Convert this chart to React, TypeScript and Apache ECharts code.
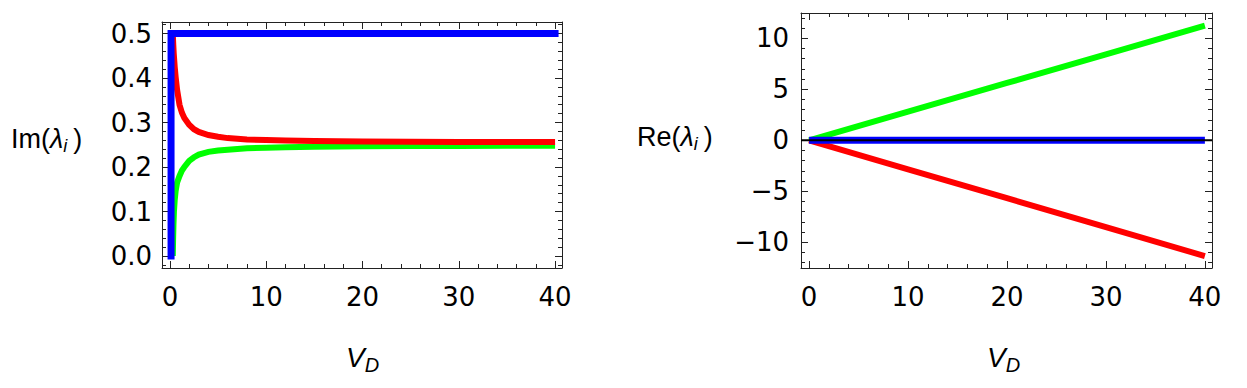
import React, { useEffect, useRef } from "react";
import * as echarts from "echarts";

// ---- axis ranges & ticks ----
const X_MIN = -0.82;
const X_MAX = 40.72;
const X_MAJOR = [0, 10, 20, 30, 40];
const X_MINOR_STEP = 2;

const IM_MIN = -0.027;
const IM_MAX = 0.526;
const IM_MAJOR = [0, 0.1, 0.2, 0.3, 0.4, 0.5];
const IM_MINOR_STEP = 0.02;

const RE_MIN = -12.52;
const RE_MAX = 12.48;
const RE_MAJOR = [-10, -5, 0, 5, 10];
const RE_MINOR_STEP = 1;

// ---- Im(lambda_i) panel data ----
const IM_BLUE_X = [0.12, 0.12, 40];
const IM_BLUE_Y = [0, 0.5, 0.5];

const IM_RED_X = [0.3, 0.35, 0.4, 0.5, 0.6, 0.75, 1, 1.25, 1.5, 2, 2.5, 3, 4, 5, 6, 8, 10, 12, 15, 20, 25, 30, 35, 40];
const IM_RED_Y = [0.5, 0.475, 0.455, 0.425, 0.402, 0.373, 0.34, 0.322, 0.31, 0.295, 0.285, 0.279, 0.272, 0.268, 0.265, 0.262, 0.2605, 0.2595, 0.2585, 0.2575, 0.257, 0.2565, 0.2562, 0.256];

const IM_GREEN_X = [0.3, 0.33, 0.37, 0.42, 0.5, 0.6, 0.75, 1, 1.25, 1.5, 2, 2.5, 3, 4, 5, 6, 8, 10, 12, 15, 20, 25, 30, 35, 40];
const IM_GREEN_Y = [0.0, 0.035, 0.07, 0.1, 0.126, 0.147, 0.165, 0.18, 0.192, 0.2, 0.214, 0.222, 0.228, 0.234, 0.237, 0.239, 0.242, 0.2435, 0.2445, 0.2455, 0.2465, 0.247, 0.2475, 0.2478, 0.248];

// ---- Re(lambda_i) panel data ----
const RE_X = [0, 10, 20, 30, 40];
const RE_GREEN_Y = [0, 2.81, 5.62, 8.43, 11.25];
const RE_RED_Y = [0, -2.84, -5.68, -8.51, -11.35];
const RE_BLUE_Y = [0, 0, 0, 0, 0];

const BLUE = "#0000ff";
const RED = "#ff0000";
const GREEN = "#00ff00";
const FRAME = "#222222";
const FONT = "DejaVu Sans";
const TITLE_FONT = "Liberation Sans";

function minorTicks(min: number, max: number, step: number, majors: number[]) {
  const out: number[] = [];
  const start = Math.ceil(min / step - 1e-9);
  const end = Math.floor(max / step + 1e-9);
  for (let k = start; k <= end; k++) {
    const v = +(k * step).toFixed(6);
    if (!majors.some((m) => Math.abs(m - v) < 1e-9)) out.push(v);
  }
  return out;
}

function pairs(xs: number[], ys: number[]) {
  return xs.map((x, i) => [x, ys[i]]);
}

const fmtIm = (v: number) => v.toFixed(1);
const fmtRe = (v: number) => (v < 0 ? "\u2212" + Math.abs(v) : String(v));

export default function App() {
  const ref = useRef<HTMLDivElement>(null);

  useEffect(() => {
    if (!ref.current) return;
    const chart = echarts.init(ref.current, undefined, { renderer: "svg" });

    const rectL = { left: 162, top: 22, width: 400, height: 246 };
    const rectR = { left: 801, top: 13, width: 411, height: 255 };

    const grids: any[] = [];
    const xAxes: any[] = [];
    const yAxes: any[] = [];

    const labelStyle = { fontFamily: FONT, fontSize: 26, color: "#000" };

    function addPanel(
      rect: any,
      yMin: number,
      yMax: number,
      yMajor: number[],
      yMinorStep: number,
      yFmt: (v: number) => string,
      yMargin: number
    ) {
      const xMinor = minorTicks(X_MIN, X_MAX, X_MINOR_STEP, X_MAJOR);
      const yMinor = minorTicks(yMin, yMax, yMinorStep, yMajor);
      const base = grids.length;
      const configs = [
        { xpos: "bottom", ypos: "left", major: true, labels: true, line: true },
        { xpos: "top", ypos: "right", major: true, labels: false, line: true },
        { xpos: "bottom", ypos: "left", major: false, labels: false, line: false },
        { xpos: "top", ypos: "right", major: false, labels: false, line: false },
      ];
      configs.forEach((c, i) => {
        grids.push({ ...rect, containLabel: false });
        const gi = base + i;
        xAxes.push({
          type: "value",
          gridIndex: gi,
          position: c.xpos,
          min: X_MIN,
          max: X_MAX,
          axisLine: { show: c.line, onZero: false, lineStyle: { color: FRAME, width: 1 } },
          axisTick: {
            show: true,
            inside: true,
            length: c.major ? 7 : 4,
            customValues: c.major ? X_MAJOR : xMinor,
            lineStyle: { color: FRAME, width: 1 },
          },
          axisLabel: c.labels
            ? { show: true, customValues: X_MAJOR, margin: 16, ...labelStyle, formatter: (v: number) => String(v) }
            : { show: false },
          splitLine: { show: false },
          minorTick: { show: false },
        });
        yAxes.push({
          type: "value",
          gridIndex: gi,
          position: c.ypos,
          min: yMin,
          max: yMax,
          axisLine: { show: c.line, onZero: false, lineStyle: { color: FRAME, width: 1 } },
          axisTick: {
            show: true,
            inside: true,
            length: c.major ? 7 : 4,
            customValues: c.major ? yMajor : yMinor,
            lineStyle: { color: FRAME, width: 1 },
          },
          axisLabel: c.labels
            ? { show: true, customValues: yMajor, margin: yMargin, ...labelStyle, formatter: yFmt }
            : { show: false },
          splitLine: { show: false },
          minorTick: { show: false },
        });
      });
      return base;
    }

    const gL = addPanel(rectL, IM_MIN, IM_MAX, IM_MAJOR, IM_MINOR_STEP, fmtIm, 10);
    const gR = addPanel(rectR, RE_MIN, RE_MAX, RE_MAJOR, RE_MINOR_STEP, fmtRe, 12);

    const line = (data: number[][], color: string, width: number, axisIdx: number, z: number, cap = "butt") => ({
      type: "line",
      xAxisIndex: axisIdx,
      yAxisIndex: axisIdx,
      data,
      showSymbol: false,
      symbol: "none",
      smooth: false,
      z,
      lineStyle: { color, width, cap, join: "miter" },
      itemStyle: { color },
      silent: true,
    });

    const series = [
      line(pairs(IM_GREEN_X, IM_GREEN_Y), GREEN, 6, gL, 2),
      line(pairs(IM_RED_X, IM_RED_Y), RED, 6, gL, 3),
      line(pairs(IM_BLUE_X, IM_BLUE_Y), BLUE, 7, gL, 4, "square"),
      line(pairs(RE_X, RE_GREEN_Y), GREEN, 6, gR, 2),
      line(pairs(RE_X, RE_RED_Y), RED, 6, gR, 3),
      line(pairs(RE_X, RE_BLUE_Y), BLUE, 7, gR, 4),
      line([[X_MIN, 0], [X_MAX, 0]], "#000000", 2, gR, 5),
    ];

    const titleRich = {
      n: { fontFamily: TITLE_FONT, fontSize: 27, color: "#000" },
      l: { fontFamily: TITLE_FONT, fontSize: 27, fontStyle: "italic", color: "#000" },
      s: { fontFamily: TITLE_FONT, fontSize: 18, fontStyle: "italic", color: "#000", padding: [14, 6, 0, 0] },
      v: { fontFamily: TITLE_FONT, fontSize: 28, fontStyle: "italic", color: "#000" },
      d: { fontFamily: TITLE_FONT, fontSize: 20, fontStyle: "italic", color: "#000", padding: [16, 0, 0, 0] },
    };

    const graphic = [
      { type: "text", left: 11, top: 125, style: { text: "{n|Im(}{l|λ}{s|i}{n|)}", rich: titleRich } },
      { type: "text", left: 637, top: 123, style: { text: "{n|Re(}{l|λ}{s|i}{n|)}", rich: titleRich } },
      { type: "text", left: 346, top: 343, style: { text: "{v|V}{d|D}", rich: titleRich } },
      { type: "text", left: 987, top: 343, style: { text: "{v|V}{d|D}", rich: titleRich } },
    ];

    chart.setOption({
      animation: false,
      backgroundColor: "#ffffff",
      grid: grids,
      xAxis: xAxes,
      yAxis: yAxes,
      series,
      graphic,
    });

    return () => chart.dispose();
  }, []);

  return (
    <div
      ref={ref}
      style={{ position: "absolute", left: 0, top: 0, width: 1247, height: 388, background: "#fff" }}
    />
  );
}
